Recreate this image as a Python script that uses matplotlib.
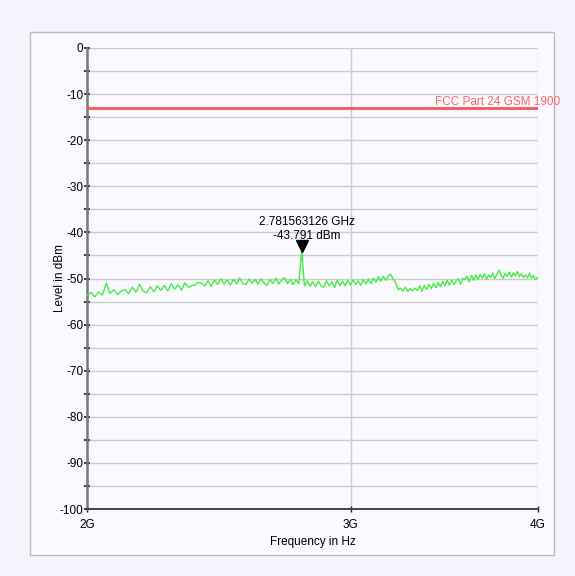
import numpy as np
import matplotlib
matplotlib.use("Agg")
import matplotlib.pyplot as plt
from matplotlib.patches import Rectangle
from matplotlib.transforms import offset_copy

plt.rcParams["font.family"] = ["Liberation Sans", "DejaVu Sans"]
plt.rcParams["axes.unicode_minus"] = False

# sweep: 2-4 GHz, 500 points, every 3rd point kept
freq = np.linspace(2e9, 4e9, 500)[::3]
level = [
    -53.8, -53.0, -54.0, -52.9, -53.6, -51.0, -53.3, -52.4, -53.5, -52.7,
    -52.4, -53.3, -51.9, -53.0, -51.3, -52.8, -53.1, -51.8, -52.9, -51.6,
    -52.6, -51.5, -52.7, -51.1, -52.3, -51.4, -52.5, -50.9, -51.9, -51.6,
    -51.4, -50.8, -51.0, -51.6, -50.5, -51.7, -50.3, -51.3, -50.1, -51.2,
    -50.3, -51.4, -50.2, -51.2, -49.9, -51.1, -51.3, -50.1, -51.0, -50.2,
    -51.2, -50.1, -51.0, -51.5, -50.2, -51.1, -49.9, -51.2, -50.3, -49.8,
    -51.1, -50.2, -51.3, -50.3, -51.1, -43.791, -51.6, -50.5, -51.7, -50.7,
    -51.8, -50.6, -51.5, -51.9, -50.5, -51.6, -50.7, -52.0, -50.3, -51.5,
    -50.6, -51.6, -50.4, -51.4, -50.3, -51.3, -50.5, -51.5, -50.2, -51.2,
    -50.1, -51.1, -49.9, -50.8, -49.6, -50.6, -49.5, -50.4, -49.3, -49.1,
    -50.2, -50.9, -52.4, -52.1, -52.8, -51.9, -52.8, -52.2, -52.7, -52.1,
    -52.6, -51.6, -52.8, -51.5, -52.4, -51.3, -52.2, -51.1, -52.0, -50.9,
    -51.8, -50.6, -51.6, -50.4, -51.4, -50.3, -51.3, -50.5, -50.1, -51.2,
    -50.0, -50.2, -49.5, -50.7, -49.3, -50.4, -49.2, -50.2, -49.1, -49.9,
    -49.0, -50.2, -49.2, -49.8, -48.8, -50.0, -49.1, -48.2, -49.3, -49.9,
    -48.9, -49.6, -48.6, -49.7, -48.8, -49.5, -48.5, -49.6, -49.0, -49.8,
    -49.2, -49.9, -48.9, -49.9, -49.4, -50.2, -49.8,
]
limit_level = -13
limit_label = "FCC Part 24 GSM 1900"
peak_freq = 2.781563126e9
peak_level = -43.791
xticks = [2e9, 3e9, 4e9]
xticklabels = ["2G", "3G", "4G"]

fig = plt.figure(figsize=(5.75, 5.76), dpi=100, facecolor="#f3f4fc")
# inner panel
fig.patches.append(Rectangle((30 / 575, 1 - 555 / 576), 524 / 575, 523 / 576,
                             transform=fig.transFigure, facecolor="#f9f9fe",
                             edgecolor="#bdbdbd", linewidth=1, zorder=-10))

ax = fig.add_axes([87 / 575, 1 - 509 / 576, 451 / 575, 461 / 576])
ax.set_facecolor("#f9f9fe")
ax.set_xscale("log")
ax.set_xlim(2e9, 4e9)
ax.set_ylim(-100, 0)

ax.set_yticks(np.arange(-100, 1, 5), minor=True)
ax.set_yticks(np.arange(-100, 1, 10))
ax.set_xticks(xticks)
ax.set_xticklabels(xticklabels)
ax.xaxis.set_minor_locator(matplotlib.ticker.NullLocator())
ax.tick_params(axis="y", which="both", direction="inout", length=5, width=1.2,
               color="#222222", labelsize=8.5, pad=0)
ax.tick_params(axis="x", which="major", direction="inout", length=5, width=1,
               color="#222222", labelsize=8.5, pad=5)
ax.grid(True, axis="y", which="both", color="#cccccc", linewidth=1)
ax.grid(True, axis="x", which="major", color="#cccccc", linewidth=1)
ax.set_axisbelow(True)
for s in ("top", "right"):
    ax.spines[s].set_visible(False)
ax.spines["left"].set_color("#777777")
ax.spines["left"].set_linewidth(1.8)
ax.spines["bottom"].set_color("#444444")
ax.spines["bottom"].set_linewidth(1.4)

ax.set_xlabel("Frequency in Hz", fontsize=8.5, labelpad=3)
ax.set_ylabel("Level in dBm", fontsize=8.5)
ax.yaxis.set_label_coords(-0.046, 0.5)

ax.plot(freq, level, color="#44ee44", linewidth=1, zorder=3)
ax.axhline(limit_level, color="#ff5555", linewidth=2, zorder=3)
ax.text(1.05, limit_level, limit_label, transform=ax.get_yaxis_transform(),
        ha="right", va="bottom", color="#ff6666", fontsize=8.5, clip_on=False)

tri = offset_copy(ax.transData, fig=fig, x=0, y=4, units="dots")
ax.plot([peak_freq], [peak_level], marker="v", color="black", markersize=9,
        transform=tri, zorder=4)
ax.annotate(f"{peak_freq / 1e9:.9f} GHz\n{peak_level:.3f} dBm",
            (peak_freq, peak_level), xytext=(4, 5.5), textcoords="offset points",
            ha="center", va="bottom", fontsize=8.5, linespacing=1.3)

fig.savefig("out.png", dpi=100, facecolor=fig.get_facecolor())
